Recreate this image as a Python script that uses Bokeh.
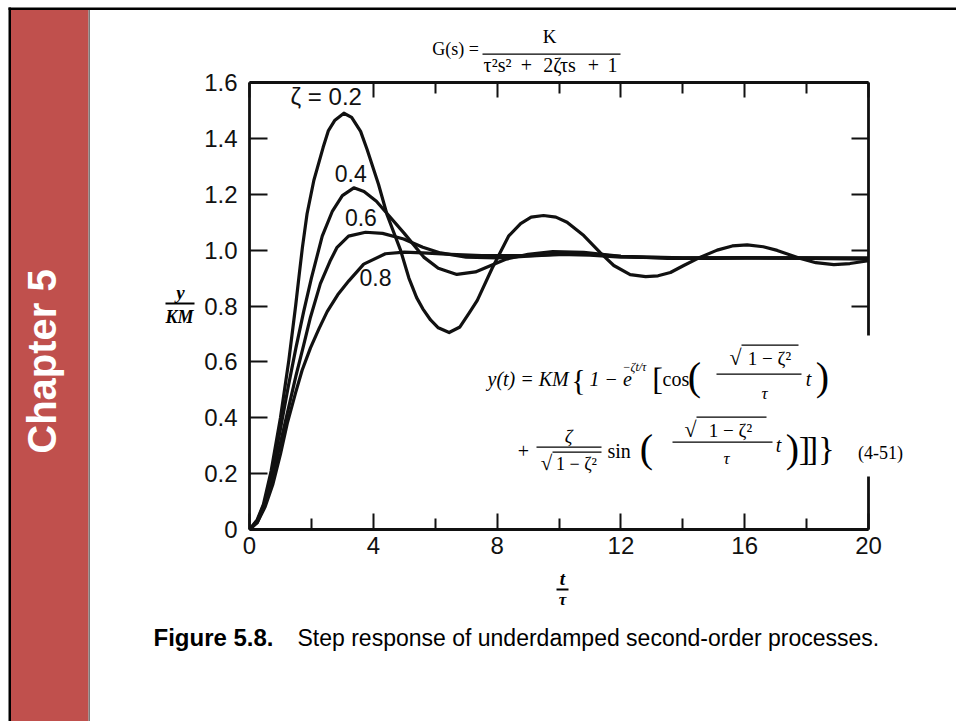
import math
from bokeh.plotting import figure
from bokeh.models import LinearAxis, FixedTicker, Range1d, PrintfTickFormatter, GridBox
from bokeh.core.properties import value
from bokeh.embed import file_html
from bokeh.resources import INLINE

# ---------------- data ----------------
t_z02 = [0, 0.25, 0.45, 0.7, 1.0, 1.27, 1.49, 1.61, 1.71, 1.86, 2.08, 2.38, 2.55, 2.76,
         3.05, 3.3, 3.59, 3.8, 4.17, 4.45, 4.88, 5.15, 5.4, 5.6, 5.85, 6.1, 6.45, 6.8,
         7.1, 7.36, 7.84, 8.37, 8.76, 9.1, 9.5, 9.9, 10.26, 10.8, 11.34, 11.77, 12.3,
         12.8, 13.2, 13.6, 14.03, 14.57, 15.11, 15.6, 16.08, 16.6, 17.05, 17.8, 18.3,
         18.88, 19.4, 20]
y_z02 = [0, 0.035, 0.09, 0.21, 0.40, 0.605, 0.80, 0.916, 1.01, 1.13, 1.25, 1.368, 1.428,
         1.465, 1.49, 1.475, 1.425, 1.36, 1.235, 1.125, 1.0, 0.90, 0.83, 0.79, 0.75, 0.722,
         0.705, 0.725, 0.775, 0.82, 0.935, 1.05, 1.095, 1.118, 1.124, 1.118, 1.10, 1.052,
         0.99, 0.945, 0.912, 0.905, 0.908, 0.92, 0.945, 0.975, 1.0, 1.015, 1.019, 1.012,
         0.999, 0.97, 0.955, 0.948, 0.952, 0.962]

t_z04 = [0, 0.25, 0.5, 0.75, 1.0, 1.25, 1.5, 1.75, 2.0, 2.35, 2.68, 3.0, 3.37, 3.7, 4.1,
         4.45, 5.0, 5.63, 6.1, 6.7, 7.3, 7.8, 8.3, 9.0, 9.8, 10.8, 12.0, 13.5, 15, 16.5, 18, 20]
y_z04 = [0, 0.03, 0.10, 0.22, 0.36, 0.51, 0.65, 0.78, 0.90, 1.05, 1.14, 1.195, 1.223, 1.21,
         1.175, 1.13, 1.06, 0.975, 0.935, 0.913, 0.922, 0.945, 0.968, 0.985, 0.995, 0.992,
         0.978, 0.97, 0.97, 0.972, 0.972, 0.97]

t_z06 = [0, 0.25, 0.5, 0.75, 1.0, 1.25, 1.5, 1.75, 1.97, 2.29, 2.6, 2.83, 3.2, 3.75, 4.3,
         4.98, 5.6, 6.17, 7.0, 8.0, 9.0, 10.0, 11.0, 12.0, 14.0, 16.0, 18.0, 20.0]
y_z06 = [0, 0.025, 0.09, 0.19, 0.31, 0.43, 0.55, 0.66, 0.76, 0.88, 0.96, 1.01, 1.05, 1.064,
         1.06, 1.04, 1.01, 0.99, 0.975, 0.972, 0.978, 0.985, 0.985, 0.978, 0.972, 0.972,
         0.970, 0.968]

t_z08 = [0, 0.25, 0.5, 0.75, 1.0, 1.22, 1.49, 1.7, 1.97, 2.25, 2.51, 2.85, 3.21, 3.69, 4.39,
         5.0, 5.6, 6.5, 7.5, 9.0, 10.0, 11.0, 12.0, 14.0, 16.0, 18.0, 20.0]
y_z08 = [0, 0.025, 0.08, 0.16, 0.27, 0.38, 0.49, 0.57, 0.65, 0.72, 0.78, 0.84, 0.89, 0.95,
         0.987, 0.993, 0.99, 0.985, 0.98, 0.98, 0.985, 0.982, 0.975, 0.972, 0.973, 0.972,
         0.972]

series_t = [t_z02, t_z04, t_z06, t_z08]
series_y = [y_z02, y_z04, y_z06, y_z08]

zeta_labels = ["ζ = 0.2", "0.4", "0.6", "0.8"]
zeta_label_t = [2.48, 3.27, 3.6, 4.07]
zeta_label_y = [1.55, 1.274, 1.117, 0.902]

x_ticks = [0, 4, 8, 12, 16, 20]
x_minor_ticks = [2, 6, 10, 14, 18]
x_minor_ticks_top = [6, 10, 14, 18]   # the tick at 2 is hidden by the ζ label
y_ticks = [0, 0.2, 0.4, 0.6, 0.8, 1.0, 1.2, 1.4, 1.6]

# ---------------- chart figure ----------------
W, H = 956, 721
FL, FR, FT, FB = 249, 868, 82, 529
INK = "#111111"

p = figure(width=W, height=H, x_range=Range1d(0, 20), y_range=Range1d(0, 1.6),
           output_backend="svg", toolbar_location=None,
           x_axis_location=None, y_axis_location=None,
           min_border_left=FL, min_border_right=W - FR,
           min_border_top=FT, min_border_bottom=H - FB)
p.grid.grid_line_color = None
p.outline_line_color = None
p.background_fill_color = "white"
p.border_fill_color = "white"
p.frame_align = False


def make_axis(ticks, minor, tick_in, minor_in, show_labels):
    ax = LinearAxis(ticker=FixedTicker(ticks=ticks, minor_ticks=minor))
    ax.axis_line_color = INK
    ax.axis_line_width = 2.8
    ax.major_tick_in = tick_in
    ax.major_tick_out = 0
    ax.major_tick_line_width = 2
    ax.major_tick_line_color = INK
    ax.minor_tick_in = minor_in
    ax.minor_tick_out = 0
    ax.minor_tick_line_width = 2
    ax.minor_tick_line_color = INK if minor else None
    ax.major_label_text_font = "Liberation Sans"
    ax.major_label_text_font_size = "24px" if show_labels else "0px"
    ax.major_label_text_color = INK if show_labels else None
    return ax


left = make_axis(y_ticks, [], 18, 0, True)
left.formatter = PrintfTickFormatter(format="%.1f")
left.major_label_overrides = {0: "0"}
left.major_label_standoff = 12
right = make_axis(y_ticks, [], 17, 0, False)
bottom = make_axis(x_ticks, x_minor_ticks, 16, 11, True)
bottom.major_label_standoff = 7
top = make_axis(x_ticks, x_minor_ticks_top, 15, 11, False)
p.add_layout(left, "left")
p.add_layout(right, "right")
p.add_layout(bottom, "below")
p.add_layout(top, "above")

for ts, ys in zip(series_t, series_y):
    p.line(ts, ys, line_color=INK, line_width=3.2, line_join="round", line_cap="round")

p.text(x=zeta_label_t[:1], y=zeta_label_y[:1], text=zeta_labels[:1],
       text_font=value("Liberation Sans"), text_font_size=value("24px"),
       text_color=INK, text_align="center", text_baseline="middle")
p.text(x=zeta_label_t[1:], y=zeta_label_y[1:], text=zeta_labels[1:],
       text_font=value("Liberation Sans"), text_font_size=value("23px"),
       text_color=INK, text_align="center", text_baseline="middle")

# ---------------- page decorations (transparent overlay, pixel coords) ----------------
d = figure(width=W, height=H, x_range=Range1d(0, W), y_range=Range1d(0, H),
           output_backend="svg", toolbar_location=None,
           x_axis_location=None, y_axis_location=None, min_border=0)
d.grid.grid_line_color = None
d.outline_line_color = None
d.background_fill_color = None
d.border_fill_color = None
d.frame_align = False


def box(x0, y0, x1, y1, color):
    d.quad(left=[x0], right=[x1], top=[H - y0], bottom=[H - y1],
           fill_color=color, line_color=None)


def lab(text, px, py, size, font="Liberation Serif", style="normal", align="center",
        color="black", angle=0.0):
    d.text(x=[px], y=[H - py], text=[text], text_font=value(font),
           text_font_size=value(f"{size}px"), text_font_style=value(style),
           text_align=value(align), text_baseline=value("middle"),
           text_color=color, angle=angle)


# slide frame and sidebar
box(8, 7, W, 9.5, "black")
box(8, 7, 10.5, H, "black")
box(10.5, 9.5, 88, H, "#C0504D")
box(88, 9.5, 89.5, H, "#7a7a7a")
lab("Chapter 5", 41, 361, 40, font="Liberation Sans", style="bold", color="white",
    angle=math.pi / 2)

# transfer function
lab("G(s) =", 455, 48, 18)
lab("K", 549, 36, 19)
box(482, 53, 620, 54.2, "black")
lab("τ²s²", 497, 64, 20)
lab("+", 526, 64, 20)
lab("2ζτs", 559, 64, 20)
lab("+", 593, 64, 20)
lab("1", 612, 64, 20)

# axis titles
lab("y", 180, 292, 19, style="bold italic")
box(165, 302, 194, 304, "black")
lab("KM", 179, 316, 18, style="bold italic")
lab("t", 562, 578, 19, style="bold italic")
box(556, 588, 568, 590, "black")
lab("τ", 562, 599, 17, style="bold italic")

# caption
lab("Figure 5.8.", 153, 637, 24, font="Liberation Sans", style="bold", align="left")
lab("Step response of underdamped second-order processes.", 297, 637, 23,
    font="Liberation Sans", align="left")

# equation (4-51) on a white patch
box(482, 335, 906, 476, "white")
lab("y(t) = KM", 487, 378, 20, style="italic", align="left")
lab("{", 578, 379, 30)
lab("1 − e", 589, 378, 20, style="italic", align="left")
lab("−ζt/τ", 622, 366, 12, style="italic", align="left")
lab("[", 657, 378, 32)
lab("cos", 662, 378, 20, align="left")
lab("(", 694, 376, 40)
lab("√", 735, 357, 22)
box(741, 344, 798, 345.3, "black")
lab("1 − ζ²", 769, 358, 19)
box(716, 373, 801, 374.3, "black")
lab("τ", 764, 393, 17, style="italic")
lab("t", 808, 378, 20, style="italic")
lab(")", 822, 376, 40)

lab("+", 523, 450, 20)
lab("ζ", 568, 436, 19, style="italic")
box(536, 446, 601, 447.3, "black")
lab("√", 546, 462, 21)
box(552, 451, 601, 452.3, "black")
lab("1 − ζ²", 576, 463, 18)
lab("sin", 607, 450, 20, align="left")
lab("(", 646, 448, 40)
lab("√", 690, 429, 22)
box(696, 416, 766, 417.3, "black")
lab("1 − ζ²", 730, 430, 19)
box(672, 441, 772, 442.3, "black")
lab("τ", 726, 458, 17, style="italic")
lab("t", 778, 444, 20, style="italic")
lab(")", 792, 448, 40)
lab("]", 804, 448, 34)
lab("]", 812, 448, 34)
lab("}", 826, 448, 34)
lab("(4-51)", 880, 452, 18)

page = GridBox(children=[(p, 0, 0), (d, 0, 0)])
open("out.html", "w").write(file_html(page, INLINE))
